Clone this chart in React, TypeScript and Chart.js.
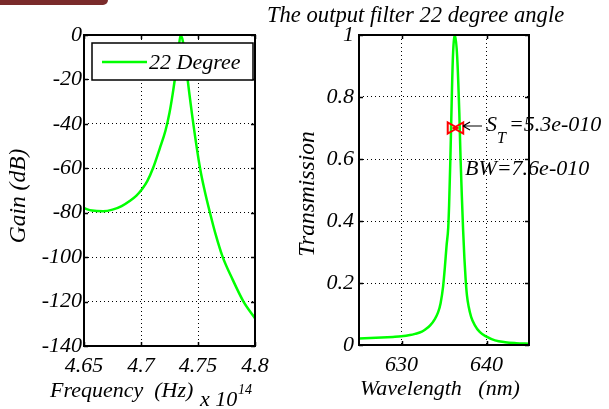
import React, { useEffect, useRef } from 'react';
import { Chart, registerables } from 'chart.js';

Chart.register(...registerables);

const FONT = '"Liberation Serif", "Times New Roman", Times, serif';

// ---------- Left panel: Gain vs Frequency (x 10^14 Hz) ----------
const seriesLabel = '22 Degree';
const freq = [
  4.65, 4.657, 4.6667, 4.675, 4.683, 4.6904, 4.696, 4.701, 4.7055, 4.7105, 4.7165,
  4.7215, 4.725, 4.7278, 4.7302, 4.7325, 4.7347, 4.7368, 4.7386, 4.7409,
  4.7459, 4.7518, 4.7558, 4.7605, 4.7656, 4.7717, 4.7803, 4.7899, 4.8,
];
const gainDb = [
  -78, -79, -79.3, -78.6, -77, -74.6, -72.3, -69.3, -65.8, -60, -51,
  -43, -35, -26.5, -18, -9, 0, -3, -9.5, -20,
  -40, -60, -70, -80, -90, -100, -110, -120, -127.5,
];
const freqTicks = [4.65, 4.7, 4.75, 4.8];
const gainTicks = [0, -20, -40, -60, -80, -100, -120, -140];

// ---------- Right panel: Transmission vs Wavelength (nm) ----------
const titleText = 'The output filter 22 degree angle';
const wavelength = [
  625, 627, 629, 630, 631, 631.6, 632.4, 632.8, 633.4, 633.9, 634.3, 634.6,
  634.9, 635.1, 635.3, 635.5, 635.6, 635.75, 635.85, 636.05, 636.3, 636.55,
  636.8, 636.95, 637.1, 637.25, 637.4, 637.55, 637.7, 637.9, 638.2, 638.6,
  639.2, 640, 641, 642.2, 643.5, 645,
];
const transmission = [
  0.021, 0.023, 0.026, 0.028, 0.032, 0.036, 0.043, 0.05, 0.064, 0.083, 0.105, 0.135,
  0.19, 0.25, 0.32, 0.38, 0.45, 0.6, 0.72, 0.93, 1.0, 0.93,
  0.75, 0.6, 0.48, 0.37, 0.28, 0.21, 0.16, 0.124, 0.09, 0.065,
  0.042, 0.027, 0.015, 0.009, 0.006, 0.004,
];
const wlTicks = [630, 640];
const transTicks = [0, 0.2, 0.4, 0.6, 0.8, 1];
const markerX = [635.82, 636.88];
const markerY = [0.7, 0.7];
const markerRot = [90, -90];
const stLabel = 'S';
const stSub = 'T';
const stValue = '=5.3e-010';
const bwText = 'BW=7.6e-010';

const GREEN = '#00ff00';

function fmtNum(v: number): string {
  return String(Number(v.toFixed(3)));
}

function drawFrame(chart: any) {
  const { ctx, chartArea: a, scales } = chart;
  ctx.save();
  ctx.strokeStyle = '#000';
  ctx.lineWidth = 1.5;
  const L = 4;
  ctx.beginPath();
  scales.x.ticks.forEach((t: any) => {
    const px = Math.round(scales.x.getPixelForValue(t.value)) + 0.5;
    ctx.moveTo(px, a.bottom);
    ctx.lineTo(px, a.bottom - L);
    ctx.moveTo(px, a.top);
    ctx.lineTo(px, a.top + L);
  });
  scales.y.ticks.forEach((t: any) => {
    const py = Math.round(scales.y.getPixelForValue(t.value)) + 0.5;
    ctx.moveTo(a.left, py);
    ctx.lineTo(a.left + L, py);
    ctx.moveTo(a.right, py);
    ctx.lineTo(a.right - L, py);
  });
  ctx.stroke();
  ctx.lineWidth = 2;
  ctx.strokeRect(a.left, a.top, a.right - a.left, a.bottom - a.top);
  ctx.restore();
}

function gridOpts() {
  return {
    color: '#000',
    lineWidth: 1,
    drawTicks: false,
  };
}

function App() {
  const leftRef = useRef<HTMLCanvasElement | null>(null);
  const rightRef = useRef<HTMLCanvasElement | null>(null);

  useEffect(() => {
    const leftPlugin = {
      id: 'leftDeco',
      afterDraw(chart: any) {
        drawFrame(chart);
        const { ctx } = chart;
        ctx.save();
        // legend
        ctx.fillStyle = '#fff';
        ctx.fillRect(92, 43, 161, 37);
        ctx.strokeStyle = '#000';
        ctx.lineWidth = 1.5;
        ctx.strokeRect(92, 43, 161, 37);
        ctx.strokeStyle = GREEN;
        ctx.lineWidth = 2.5;
        ctx.beginPath();
        ctx.moveTo(102, 62);
        ctx.lineTo(147, 62);
        ctx.stroke();
        ctx.fillStyle = '#000';
        ctx.font = `italic 22px ${FONT}`;
        ctx.textAlign = 'left';
        ctx.textBaseline = 'alphabetic';
        ctx.fillText(chart.data.datasets[0].label, 149, 69);
        // axis titles
        ctx.fillText('Frequency  (Hz)', 50, 397);
        ctx.fillText('x 10', 200, 406);
        ctx.font = `italic 14px ${FONT}`;
        ctx.fillText('14', 238, 394);
        ctx.font = `italic 23.5px ${FONT}`;
        ctx.translate(19, 196);
        ctx.rotate(-Math.PI / 2);
        ctx.textAlign = 'center';
        ctx.textBaseline = 'middle';
        ctx.fillText('Gain (dB)', 0, 0);
        ctx.restore();
      },
    };

    const rightPlugin = {
      id: 'rightDeco',
      afterDatasetsDraw(chart: any) {
        const { ctx } = chart;
        ctx.save();
        ctx.fillStyle = '#000';
        ctx.strokeStyle = '#000';
        ctx.font = `italic 22px ${FONT}`;
        ctx.textAlign = 'left';
        ctx.textBaseline = 'alphabetic';
        // arrow
        ctx.lineWidth = 1.2;
        ctx.beginPath();
        ctx.moveTo(463, 126);
        ctx.lineTo(482, 126);
        ctx.moveTo(463, 126);
        ctx.lineTo(470, 122);
        ctx.moveTo(463, 126);
        ctx.lineTo(470, 130);
        ctx.stroke();
        // S_T annotation
        let x = 486;
        ctx.fillText(stLabel, x, 131);
        x += ctx.measureText(stLabel).width;
        ctx.font = `italic 16px ${FONT}`;
        ctx.fillText(stSub, x, 143);
        x += ctx.measureText(stSub).width + 3;
        ctx.font = `italic 22px ${FONT}`;
        ctx.fillText(stValue, x, 131);
        ctx.fillText(bwText, 465, 175);
        ctx.restore();
      },
      afterDraw(chart: any) {
        drawFrame(chart);
        const { ctx } = chart;
        ctx.save();
        ctx.fillStyle = '#000';
        ctx.font = `italic 22.6px ${FONT}`;
        ctx.textAlign = 'left';
        ctx.textBaseline = 'alphabetic';
        ctx.fillText(titleText, 267, 22);
        ctx.font = `italic 22px ${FONT}`;
        ctx.fillText('Wavelength   (nm)', 360, 395);
        ctx.font = `italic 23.5px ${FONT}`;
        ctx.translate(308, 194);
        ctx.rotate(-Math.PI / 2);
        ctx.textAlign = 'center';
        ctx.textBaseline = 'middle';
        ctx.fillText('Transmission', 0, 0);
        ctx.restore();
      },
    };

    const tickFont = { family: FONT, size: 22, style: 'italic' as const };

    const left = new Chart(leftRef.current as HTMLCanvasElement, {
      type: 'scatter',
      data: {
        datasets: [
          {
            label: seriesLabel,
            data: freq.map((f, i) => ({ x: f, y: gainDb[i] })),
            showLine: true,
            borderColor: GREEN,
            backgroundColor: GREEN,
            borderWidth: 2.5,
            pointRadius: 0,
            cubicInterpolationMode: 'monotone',
          },
        ],
      },
      options: {
        animation: false,
        responsive: false,
        events: [],
        layout: { padding: { left: 0, right: 354, top: 35, bottom: 0 } },
        plugins: { legend: { display: false }, tooltip: { enabled: false } },
        scales: {
          x: {
            type: 'linear',
            min: 4.65,
            max: 4.8,
            afterBuildTicks: (s: any) => {
              s.ticks = freqTicks.map((v) => ({ value: v }));
            },
            afterFit: (s: any) => {
              s.height = 63;
            },
            ticks: {
              color: '#000',
              font: tickFont,
              padding: 7,
              maxRotation: 0,
              autoSkip: false,
              callback: (v: any) => fmtNum(Number(v)),
            },
            grid: gridOpts(),
            border: { display: false, dash: [1, 3] },
          },
          y: {
            type: 'linear',
            min: -140,
            max: 0,
            afterBuildTicks: (s: any) => {
              s.ticks = gainTicks.map((v) => ({ value: v }));
            },
            afterFit: (s: any) => {
              s.width = 84;
            },
            ticks: {
              color: '#000',
              font: tickFont,
              padding: 2,
              autoSkip: false,
              callback: (v: any) => (Number(v) < 0 ? '-' + Math.abs(Number(v)) : String(v)),
            },
            grid: gridOpts(),
            border: { display: false, dash: [1, 3] },
          },
        },
      },
      plugins: [leftPlugin],
    } as any);

    const right = new Chart(rightRef.current as HTMLCanvasElement, {
      type: 'scatter',
      data: {
        datasets: [
          {
            label: 'edges',
            data: markerX.map((x, i) => ({ x, y: markerY[i] })),
            showLine: false,
            pointStyle: 'triangle',
            pointRotation: markerRot,
            pointRadius: 6.5,
            borderColor: '#ff0000',
            backgroundColor: 'rgba(0,0,0,0)',
            borderWidth: 2,
            order: 0,
          },
          {
            label: seriesLabel,
            data: wavelength.map((w, i) => ({ x: w, y: transmission[i] })),
            showLine: true,
            borderColor: GREEN,
            backgroundColor: GREEN,
            borderWidth: 2.5,
            pointRadius: 0,
            cubicInterpolationMode: 'monotone',
            order: 1,
          },
        ],
      },
      options: {
        animation: false,
        responsive: false,
        events: [],
        layout: { padding: { left: 300, right: 80, top: 35, bottom: 0 } },
        plugins: { legend: { display: false }, tooltip: { enabled: false } },
        scales: {
          x: {
            type: 'linear',
            min: 625,
            max: 645,
            afterBuildTicks: (s: any) => {
              s.ticks = wlTicks.map((v) => ({ value: v }));
            },
            afterFit: (s: any) => {
              s.height = 64;
            },
            ticks: {
              color: '#000',
              font: tickFont,
              padding: 7,
              maxRotation: 0,
              autoSkip: false,
              callback: (v: any) => String(v),
            },
            grid: gridOpts(),
            border: { display: false, dash: [1, 3] },
          },
          y: {
            type: 'linear',
            min: 0,
            max: 1,
            afterBuildTicks: (s: any) => {
              s.ticks = transTicks.map((v) => ({ value: v }));
            },
            afterFit: (s: any) => {
              s.width = 59;
            },
            ticks: {
              color: '#000',
              font: tickFont,
              padding: 5,
              autoSkip: false,
              callback: (v: any) => fmtNum(Number(v)),
            },
            grid: gridOpts(),
            border: { display: false, dash: [1, 3] },
          },
        },
      },
      plugins: [rightPlugin],
    } as any);

    return () => {
      left.destroy();
      right.destroy();
    };
  }, []);

  return (
    <div
      style={{
        position: 'fixed',
        left: 0,
        top: 0,
        width: 609,
        height: 409,
        background: '#fff',
        overflow: 'hidden',
      }}
    >
      <div
        style={{
          position: 'absolute',
          left: 0,
          top: 0,
          width: 108,
          height: 5,
          background: '#7a2b2b',
          borderBottomRightRadius: 5,
        }}
      />
      <canvas
        ref={leftRef}
        width={609}
        height={409}
        style={{ position: 'absolute', left: 0, top: 0, width: 609, height: 409 }}
      />
      <canvas
        ref={rightRef}
        width={609}
        height={409}
        style={{ position: 'absolute', left: 0, top: 0, width: 609, height: 409 }}
      />
    </div>
  );
}

export default App;
